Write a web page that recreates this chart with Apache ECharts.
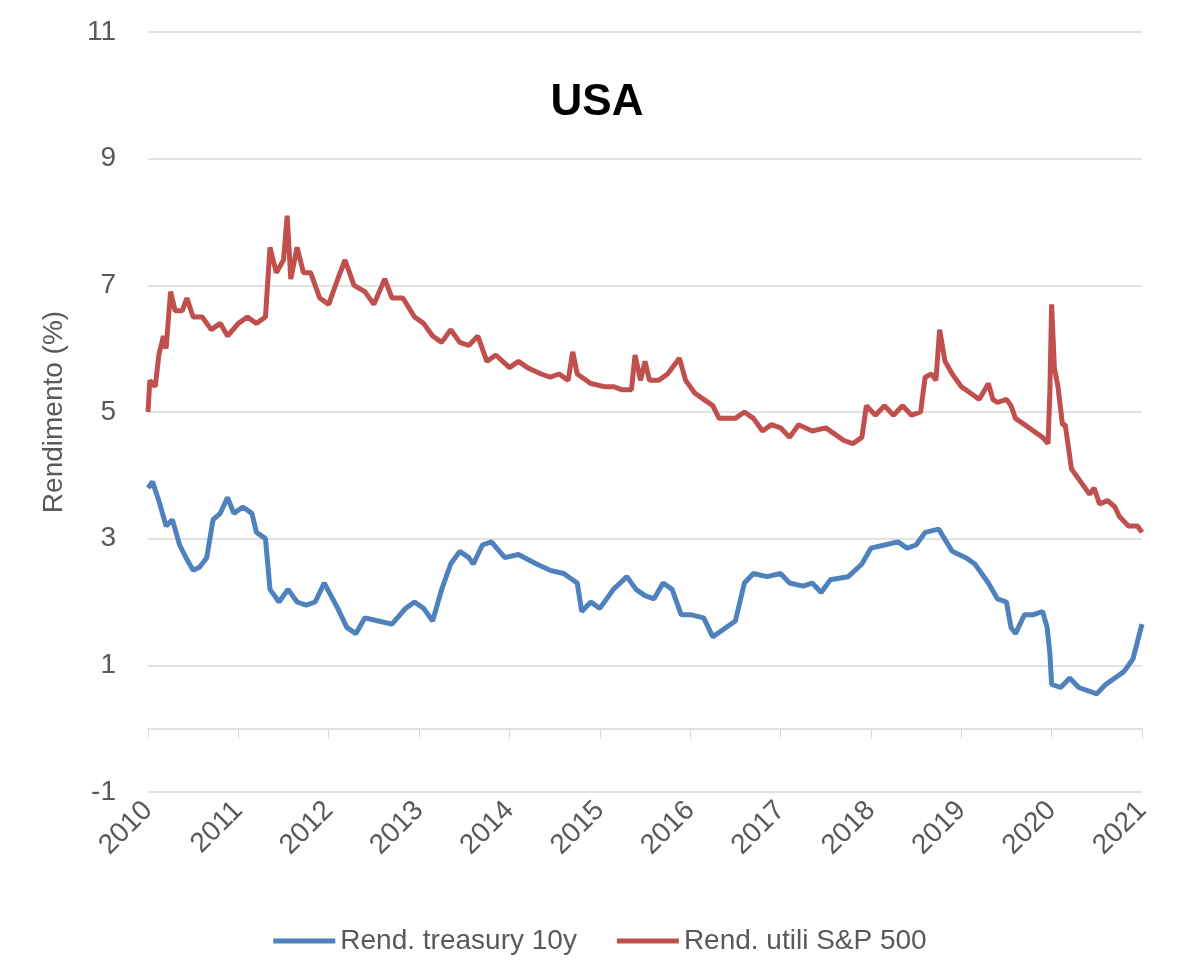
<!DOCTYPE html>
<html><head><meta charset="utf-8">
<script src="https://cdn.jsdelivr.net/npm/echarts@6/dist/echarts.min.js"></script>
<style>html,body{margin:0;padding:0;background:#fff}#c{width:1200px;height:980px}</style>
</head><body><div id="c"></div>
<script>
const xTicks = [2010,2011,2012,2013,2014,2015,2016,2017,2018,2019,2020,2021];
const tDates = [2010.0,2010.05,2010.12,2010.2,2010.27,2010.35,2010.42,2010.5,2010.57,2010.65,2010.72,2010.8,2010.88,2010.95,2011.05,2011.15,2011.2,2011.3,2011.35,2011.45,2011.55,2011.65,2011.75,2011.85,2011.95,2012.1,2012.2,2012.3,2012.4,2012.55,2012.7,2012.85,2012.95,2013.05,2013.15,2013.25,2013.35,2013.45,2013.55,2013.6,2013.7,2013.8,2013.95,2014.1,2014.3,2014.45,2014.6,2014.75,2014.8,2014.9,2015.0,2015.15,2015.3,2015.4,2015.5,2015.6,2015.7,2015.8,2015.9,2016.0,2016.15,2016.25,2016.35,2016.5,2016.6,2016.7,2016.85,2017.0,2017.1,2017.25,2017.35,2017.45,2017.55,2017.75,2017.9,2018.0,2018.15,2018.3,2018.4,2018.5,2018.6,2018.75,2018.9,2019.05,2019.15,2019.3,2019.4,2019.5,2019.55,2019.6,2019.7,2019.8,2019.9,2019.95,2019.98,2020.0,2020.1,2020.2,2020.3,2020.5,2020.6,2020.7,2020.8,2020.9,2021.0];
const tVals = [3.8,3.9,3.6,3.2,3.3,2.9,2.7,2.5,2.55,2.7,3.3,3.4,3.65,3.4,3.5,3.4,3.1,3.0,2.2,2.0,2.2,2.0,1.95,2.0,2.3,1.9,1.6,1.5,1.75,1.7,1.65,1.9,2.0,1.9,1.7,2.2,2.6,2.8,2.7,2.6,2.9,2.95,2.7,2.75,2.6,2.5,2.45,2.3,1.85,2.0,1.9,2.2,2.4,2.2,2.1,2.05,2.3,2.2,1.8,1.8,1.75,1.45,1.55,1.7,2.3,2.45,2.4,2.45,2.3,2.25,2.3,2.15,2.35,2.4,2.6,2.85,2.9,2.95,2.85,2.9,3.1,3.15,2.8,2.7,2.6,2.3,2.05,2.0,1.6,1.5,1.8,1.8,1.85,1.6,1.2,0.7,0.65,0.8,0.65,0.55,0.7,0.8,0.9,1.1,1.65];
const eDates = [2010.0,2010.02,2010.08,2010.12,2010.17,2010.2,2010.25,2010.3,2010.38,2010.43,2010.5,2010.6,2010.7,2010.8,2010.88,2011.0,2011.1,2011.2,2011.3,2011.35,2011.42,2011.5,2011.54,2011.58,2011.65,2011.72,2011.8,2011.9,2012.0,2012.1,2012.18,2012.28,2012.4,2012.5,2012.62,2012.7,2012.82,2012.95,2013.05,2013.15,2013.25,2013.35,2013.45,2013.55,2013.65,2013.75,2013.85,2014.0,2014.1,2014.2,2014.35,2014.45,2014.55,2014.65,2014.7,2014.75,2014.9,2015.05,2015.15,2015.25,2015.35,2015.39,2015.45,2015.5,2015.55,2015.65,2015.75,2015.88,2015.95,2016.05,2016.15,2016.25,2016.32,2016.5,2016.6,2016.7,2016.8,2016.9,2017.0,2017.1,2017.2,2017.35,2017.5,2017.6,2017.7,2017.8,2017.9,2017.95,2018.05,2018.15,2018.25,2018.35,2018.45,2018.55,2018.6,2018.67,2018.72,2018.76,2018.82,2018.9,2019.0,2019.1,2019.2,2019.3,2019.35,2019.4,2019.5,2019.55,2019.6,2019.7,2019.8,2019.9,2019.96,2019.98,2020.0,2020.03,2020.07,2020.12,2020.15,2020.22,2020.32,2020.42,2020.47,2020.53,2020.62,2020.7,2020.75,2020.85,2020.95,2021.0];
const eVals = [5.0,5.5,5.4,5.9,6.2,6.0,6.9,6.6,6.6,6.8,6.5,6.5,6.3,6.4,6.2,6.4,6.5,6.4,6.5,7.6,7.2,7.4,8.1,7.1,7.6,7.2,7.2,6.8,6.7,7.1,7.4,7.0,6.9,6.7,7.1,6.8,6.8,6.5,6.4,6.2,6.1,6.3,6.1,6.05,6.2,5.8,5.9,5.7,5.8,5.7,5.6,5.55,5.6,5.5,5.95,5.6,5.45,5.4,5.4,5.35,5.35,5.9,5.5,5.8,5.5,5.5,5.6,5.85,5.5,5.3,5.2,5.1,4.9,4.9,5.0,4.9,4.7,4.8,4.75,4.6,4.8,4.7,4.75,4.65,4.55,4.5,4.6,5.1,4.95,5.1,4.95,5.1,4.95,5.0,5.55,5.6,5.5,6.3,5.8,5.6,5.4,5.3,5.2,5.45,5.2,5.15,5.2,5.1,4.9,4.8,4.7,4.6,4.5,5.3,6.7,5.7,5.4,4.8,4.8,4.1,3.9,3.7,3.8,3.55,3.6,3.5,3.35,3.2,3.2,3.1];
const yTicks = [-1,1,3,5,7,9,11];

const chart = echarts.init(document.getElementById('c'));
const txt = '#595959';
const xBase = {type:'value',min:xTicks[0],max:xTicks[xTicks.length-1],interval:1,splitLine:{show:false}};
chart.setOption({
  animation:false,
  title:{text:'USA',left:592,top:76,textAlign:'center',textStyle:{fontFamily:'Liberation Sans',fontSize:44,fontWeight:'bold',color:'#000'}},
  grid:{left:148,right:58,top:32,bottom:188},
  legend:{bottom:20,left:'center',itemWidth:62,itemHeight:5,itemGap:40,icon:'rect',
    textStyle:{fontFamily:'Liberation Sans',fontSize:28,color:txt},
    data:['Rend. treasury 10y','Rend. utili S&P 500']},
  xAxis:[
    Object.assign({},xBase,{axisLine:{show:false,onZero:false},axisTick:{show:false},
      axisLabel:{rotate:45,margin:14,fontFamily:'Liberation Sans',fontSize:28,color:txt,formatter:v=>String(v)}}),
    Object.assign({},xBase,{position:'bottom',axisLine:{onZero:true,lineStyle:{color:'#d9d9d9',width:1.5}},
      axisTick:{show:true,length:10,lineStyle:{color:'#d9d9d9'}},axisLabel:{show:false}})
  ],
  yAxis:{type:'value',min:yTicks[0],max:yTicks[yTicks.length-1],interval:2,
    name:'Rendimento (%)',nameLocation:'middle',nameGap:80,nameRotate:90,
    nameTextStyle:{fontFamily:'Liberation Sans',fontSize:28,color:txt},
    axisLine:{show:false},axisTick:{show:false},
    axisLabel:{margin:32,fontFamily:'Liberation Sans',fontSize:28,color:txt},
    splitLine:{lineStyle:{color:'#d9d9d9',width:1.5}}},
  series:[
    {name:'Rend. treasury 10y',type:'line',xAxisIndex:0,showSymbol:false,symbol:'none',
     lineStyle:{width:5,color:'#4F81BD'},itemStyle:{color:'#4F81BD'},
     data:tDates.map((d,i)=>[d,tVals[i]])},
    {name:'Rend. utili S&P 500',type:'line',xAxisIndex:0,showSymbol:false,symbol:'none',
     lineStyle:{width:5,color:'#C0504D'},itemStyle:{color:'#C0504D'},
     data:eDates.map((d,i)=>[d,eVals[i]])}
  ]
});
</script></body></html>
